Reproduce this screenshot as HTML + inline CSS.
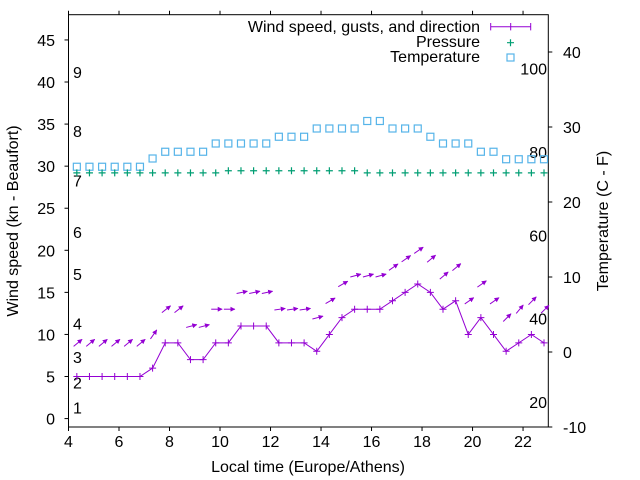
<!DOCTYPE html>
<html><head><meta charset="utf-8"><style>
html,body{margin:0;padding:0;background:#fff;}
svg{display:block;font-family:"Liberation Sans",sans-serif;}
</style></head><body>
<svg id="chart" width="640" height="480" viewBox="0 0 640 480" xmlns="http://www.w3.org/2000/svg">
<defs><marker id="ah" viewBox="0 0 10 10" refX="9" refY="5" markerWidth="5" markerHeight="5" orient="auto" markerUnits="userSpaceOnUse"><path d="M0,0 L10,5 L0,10 z" fill="#9400d3"/></marker></defs>
<g id="axes"></g>
<g id="marks"></g>
<text transform="translate(18,221) rotate(-90)" text-anchor="middle" font-size="16" fill="#000">Wind speed (kn - Beaufort)</text>
<text x="308" y="472" text-anchor="middle" font-size="16">Local time (Europe/Athens)</text>
<text transform="translate(608,221) rotate(-90)" text-anchor="middle" font-size="16">Temperature (C - F)</text>
<g font-size="16">
<text x="480" y="32" text-anchor="end">Wind speed, gusts, and direction</text>
<path d="M490.7,26.7 H530.7 M490.7,23 V30.4 M530.7,23 V30.4 M510.7,23 V30.4" stroke="#9400d3" stroke-width="1" fill="none"/>
<text x="480" y="47" text-anchor="end">Pressure</text>
<path d="M507,42.7 H514 M510.5,39.2 V46.2" stroke="#009e73" stroke-width="1.2"/>
<text x="480" y="62" text-anchor="end">Temperature</text>
<rect x="507" y="54" width="7" height="7" fill="none" stroke="#56b4e9" stroke-width="1.2"/>
</g>
</svg>
<script>
const times=[4.33,4.83,5.33,5.83,6.33,6.83,7.33,7.83,8.33,8.83,9.33,9.83,10.33,10.83,11.33,11.83,12.33,12.83,13.33,13.83,14.33,14.83,15.33,15.83,16.33,16.83,17.33,17.83,18.33,18.83,19.33,19.83,20.33,20.83,21.33,21.83,22.33,22.83];
const windSpeed=[5,5,5,5,5,5,6,9,9,7,7,9,9,11,11,11,9,9,9,8,10,12,13,13,13,14,15,16,15,13,14,10,12,10,8,9,10,9];
const gusts=[9,9,9,9,9,9,10,13,13,11,11,13,13,15,15,15,13,13,13,12,14,16,17,17,17,18,19,20,19,17,18,14,16,14,12,13,14,13];
const windDir=[230,230,230,230,230,230,215,232,232,255,255,270,270,258,258,258,262,262,262,255,240,240,255,255,255,235,235,235,230,230,230,235,235,235,225,220,225,225];
const pressure=[29.2,29.2,29.2,29.2,29.2,29.2,29.2,29.2,29.2,29.2,29.2,29.2,29.45,29.45,29.45,29.45,29.45,29.45,29.45,29.45,29.45,29.45,29.45,29.2,29.2,29.2,29.2,29.2,29.2,29.2,29.2,29.2,29.2,29.2,29.2,29.2,29.2,29.2];
const tempC=[24.7,24.7,24.7,24.7,24.7,24.7,25.8,26.7,26.7,26.7,26.7,27.8,27.8,27.8,27.8,27.8,28.7,28.7,28.7,29.8,29.8,29.8,29.8,30.8,30.8,29.8,29.8,29.8,28.7,27.8,27.8,27.8,26.7,26.7,25.7,25.7,25.7,25.7];
const xTicks=[4,6,8,10,12,14,16,18,20,22];
const yTicks=[0,5,10,15,20,25,30,35,40,45];
const y2Ticks=[-10,0,10,20,30,40];
const fTicks=[20,40,60,80,100];
const beaufortLabels=["1","2","3","4","5","6","7","8","9"];
const beaufortKn=[1.3,4.3,7.3,11.3,17.2,22.2,28.3,34.2,41.2];

const L=68.5,R=548.3,T=14.7,B=427;
const X=t=>L+(t-4)*(R-L)/19;
const Y=v=>B-(v+1)*(B-T)/49;
const Y2=c=>B-(c+10)*7.5;
const NS='http://www.w3.org/2000/svg';
function mk(tag,attrs,parent){const e=document.createElementNS(NS,tag);for(const k in attrs)e.setAttribute(k,attrs[k]);parent.appendChild(e);return e;}
const ax=document.getElementById('axes'),mg=document.getElementById('marks');
const frame=mk('rect',{x:L,y:T,width:R-L,height:B-T,fill:'none',stroke:'#000','stroke-width':1},ax);


xTicks.forEach(t=>{const x=X(t);
 const tk=mk('path',{d:`M${x},${B} V${B+4} M${x},${T} V${T-4}`,stroke:'#000'},ax);
 
 
 const lb=mk('text',{x:x,y:B+20,'text-anchor':'middle','font-size':16},ax);lb.textContent=t;
 
 });
yTicks.forEach(v=>{const y=Y(v);
 const tk=mk('path',{d:`M${L-4},${y} H${L}`,stroke:'#000'},ax);
 
 
 const lb=mk('text',{x:55,y:y+6,'text-anchor':'end','font-size':16},ax);lb.textContent=v;
 
 });
y2Ticks.forEach(c=>{const y=Y2(c);
 const tk=mk('path',{d:`M${R},${y} H${R+4}`,stroke:'#000'},ax);
 
 
 const lb=mk('text',{x:563,y:y+6,'text-anchor':'start','font-size':16},ax);lb.textContent=c;
 
 });
fTicks.forEach(f=>{const y=Y2((f-32)*5/9);
 const lb=mk('text',{x:547,y:y+6,'text-anchor':'end','font-size':16},ax);lb.textContent=f;
 
 });
beaufortLabels.forEach((s,i)=>{const lb=mk('text',{x:73,y:Y(beaufortKn[i])+6,'font-size':16},ax);lb.textContent=s;
 
 });
tempC.forEach((c,i)=>{const r=mk('rect',{x:X(times[i])-3.5,y:Y2(c)-3.5,width:7,height:7,fill:'none',stroke:'#56b4e9','stroke-width':1.2},mg);
 
 });
pressure.forEach((p,i)=>{const x=X(times[i]),y=Y(p);
 const e=mk('path',{d:`M${x-3.5},${y} H${x+3.5} M${x},${y-3.5} V${y+3.5}`,stroke:'#009e73','stroke-width':1.2},mg);
 
 });
const pl=mk('polyline',{points:windSpeed.map((v,i)=>X(times[i])+','+Y(v)).join(' '),fill:'none',stroke:'#9400d3','stroke-width':1},mg);


windSpeed.forEach((v,i)=>{const x=X(times[i]),y=Y(v);
 const e=mk('path',{d:`M${x-3.5},${y} H${x+3.5} M${x},${y-3.5} V${y+3.5}`,stroke:'#9400d3','stroke-width':1},mg);
 
 });
gusts.forEach((g,i)=>{const x=X(times[i])+1,y=Y(g);
 const a=(270-windDir[i])*Math.PI/180,h=5.5;
 const dx=Math.cos(a)*h,dy=-Math.sin(a)*h;
 const e=mk('line',{x1:x-dx,y1:y-dy,x2:x+dx,y2:y+dy,stroke:'#9400d3','stroke-width':1,'marker-end':'url(#ah)'},mg);
 
 });
</script>
</body></html>
